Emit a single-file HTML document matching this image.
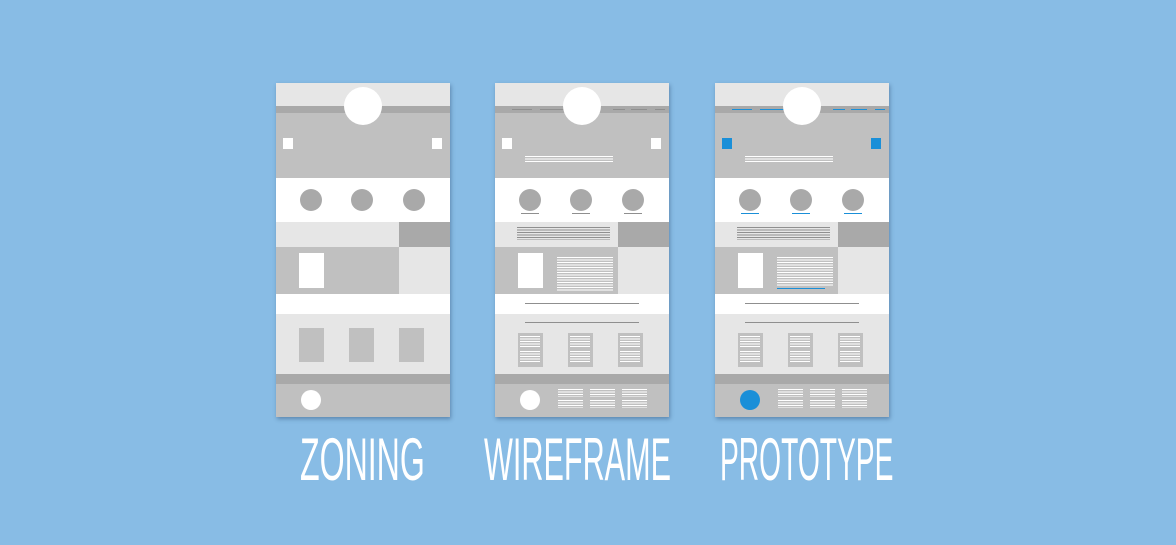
<!DOCTYPE html>
<html><head><meta charset="utf-8">
<style>
*{margin:0;padding:0;box-sizing:border-box}
body{width:1176px;height:545px;background:#88bce5;position:relative;overflow:hidden;font-family:"Liberation Sans",sans-serif}
.ph{position:absolute;top:83px;width:174px;height:334px;background:#c0c0c0;box-shadow:1px 2px 4px rgba(40,70,110,.45);overflow:hidden}
.ph div{position:absolute}
.lt{background:#e6e6e6}.dk{background:#a9a9a9}.gr{background:#c0c0c0}.wh{background:#fff}
.c{border-radius:50%}
.tw{background:repeating-linear-gradient(#fff 0 1px,transparent 1px 2.5px)}
.tg{background:repeating-linear-gradient(#8f8f8f 0 1px,transparent 1px 2.5px)}
.tb{background:repeating-linear-gradient(#1a8fd8 0 1px,transparent 1px 2.5px)}
.lbl{position:absolute;top:430px;color:#fff;font-size:60px;line-height:60px;white-space:nowrap;transform-origin:0 0;letter-spacing:0}
.blue{background:#1a8fd8 !important}
</style></head><body>

<!-- ZONING -->
<div class="ph" style="left:276px">
<div class="lt" style="left:0;top:0;width:174px;height:23px"></div>
<div class="dk" style="left:0;top:23px;width:174px;height:7px"></div>
<div class="wh" style="left:0;top:95px;width:174px;height:44px"></div>
<div class="lt" style="left:0;top:139px;width:123px;height:25px"></div>
<div class="dk" style="left:123px;top:139px;width:51px;height:25px"></div>
<div class="lt" style="left:123px;top:164px;width:51px;height:47px"></div>
<div class="wh" style="left:0;top:211px;width:174px;height:20px"></div>
<div class="lt" style="left:0;top:231px;width:174px;height:60px"></div>
<div class="dk" style="left:0;top:291px;width:174px;height:10px"></div>
<div class="wh c" style="left:68px;top:4px;width:38px;height:38px"></div>
<div class="wh" style="left:7px;top:55px;width:10px;height:11px"></div>
<div class="wh" style="left:156px;top:55px;width:10px;height:11px"></div>
<div class="dk c" style="left:24px;top:106px;width:22px;height:22px"></div>
<div class="dk c" style="left:75px;top:106px;width:22px;height:22px"></div>
<div class="dk c" style="left:127px;top:106px;width:22px;height:22px"></div>
<div class="wh" style="left:23px;top:170px;width:25px;height:35px"></div>
<div class="gr" style="left:23px;top:245px;width:25px;height:34px"></div>
<div class="gr" style="left:73px;top:245px;width:25px;height:34px"></div>
<div class="gr" style="left:123px;top:245px;width:25px;height:34px"></div>
<div class="wh c" style="left:25px;top:307px;width:20px;height:20px"></div>
</div>

<!-- WIREFRAME -->
<div class="ph" style="left:495px">
<div class="lt" style="left:0;top:0;width:174px;height:23px"></div>
<div class="dk" style="left:0;top:23px;width:174px;height:7px"></div>
<div class="tg" style="left:17px;top:26px;width:20px;height:2px"></div>
<div class="tg" style="left:45px;top:26px;width:25px;height:2px"></div>
<div class="tg" style="left:118px;top:26px;width:12px;height:2px"></div>
<div class="tg" style="left:136px;top:26px;width:16px;height:2px"></div>
<div class="tg" style="left:160px;top:26px;width:10px;height:2px"></div>
<div class="tw" style="left:30px;top:73px;width:88px;height:6px"></div>
<div class="wh" style="left:0;top:95px;width:174px;height:44px"></div>
<div class="lt" style="left:0;top:139px;width:123px;height:25px"></div>
<div class="dk" style="left:123px;top:139px;width:51px;height:25px"></div>
<div class="tg" style="left:22px;top:144px;width:93px;height:13px"></div>
<div class="lt" style="left:123px;top:164px;width:51px;height:47px"></div>
<div class="tw" style="left:62px;top:174px;width:56px;height:34px"></div>
<div class="wh" style="left:0;top:211px;width:174px;height:20px"></div>
<div class="tg" style="left:30px;top:220px;width:114px;height:2px"></div>
<div class="lt" style="left:0;top:231px;width:174px;height:60px"></div>
<div class="tg" style="left:30px;top:239px;width:114px;height:2px"></div>
<div class="dk" style="left:0;top:291px;width:174px;height:10px"></div>
<div class="wh c" style="left:68px;top:4px;width:38px;height:38px"></div>
<div class="wh" style="left:7px;top:55px;width:10px;height:11px"></div>
<div class="wh" style="left:156px;top:55px;width:10px;height:11px"></div>
<div class="dk c" style="left:24px;top:106px;width:22px;height:22px"></div>
<div class="dk c" style="left:75px;top:106px;width:22px;height:22px"></div>
<div class="dk c" style="left:127px;top:106px;width:22px;height:22px"></div>
<div class="tg" style="left:26px;top:130px;width:18px;height:2px"></div>
<div class="tg" style="left:77px;top:130px;width:18px;height:2px"></div>
<div class="tg" style="left:129px;top:130px;width:18px;height:2px"></div>
<div class="wh" style="left:23px;top:170px;width:25px;height:35px"></div>
<div class="gr" style="left:23px;top:250px;width:25px;height:34px"><div class="tw" style="left:2px;top:3px;width:20px;height:11px"></div><div class="tw" style="left:2px;top:18px;width:20px;height:11px"></div></div>
<div class="gr" style="left:73px;top:250px;width:25px;height:34px"><div class="tw" style="left:2px;top:3px;width:20px;height:11px"></div><div class="tw" style="left:2px;top:18px;width:20px;height:11px"></div></div>
<div class="gr" style="left:123px;top:250px;width:25px;height:34px"><div class="tw" style="left:2px;top:3px;width:20px;height:11px"></div><div class="tw" style="left:2px;top:18px;width:20px;height:11px"></div></div>
<div class="wh c" style="left:25px;top:307px;width:20px;height:20px"></div>
<div class="tw" style="left:63px;top:306px;width:25px;height:8px"></div>
<div class="tw" style="left:63px;top:317px;width:25px;height:8px"></div>
<div class="tw" style="left:95px;top:306px;width:25px;height:8px"></div>
<div class="tw" style="left:95px;top:317px;width:25px;height:8px"></div>
<div class="tw" style="left:127px;top:306px;width:25px;height:8px"></div>
<div class="tw" style="left:127px;top:317px;width:25px;height:8px"></div>
</div>

<!-- PROTOTYPE -->
<div class="ph" style="left:715px">
<div class="lt" style="left:0;top:0;width:174px;height:23px"></div>
<div class="dk" style="left:0;top:23px;width:174px;height:7px"></div>
<div class="tb" style="left:17px;top:26px;width:20px;height:2px"></div>
<div class="tb" style="left:45px;top:26px;width:25px;height:2px"></div>
<div class="tb" style="left:118px;top:26px;width:12px;height:2px"></div>
<div class="tb" style="left:136px;top:26px;width:16px;height:2px"></div>
<div class="tb" style="left:160px;top:26px;width:10px;height:2px"></div>
<div class="tw" style="left:30px;top:73px;width:88px;height:6px"></div>
<div class="wh" style="left:0;top:95px;width:174px;height:44px"></div>
<div class="lt" style="left:0;top:139px;width:123px;height:25px"></div>
<div class="dk" style="left:123px;top:139px;width:51px;height:25px"></div>
<div class="tg" style="left:22px;top:144px;width:93px;height:13px"></div>
<div class="lt" style="left:123px;top:164px;width:51px;height:47px"></div>
<div class="tw" style="left:62px;top:174px;width:56px;height:30px"></div>
<div class="tb" style="left:62px;top:205px;width:48px;height:2px"></div>
<div class="wh" style="left:0;top:211px;width:174px;height:20px"></div>
<div class="tg" style="left:30px;top:220px;width:114px;height:2px"></div>
<div class="lt" style="left:0;top:231px;width:174px;height:60px"></div>
<div class="tg" style="left:30px;top:239px;width:114px;height:2px"></div>
<div class="dk" style="left:0;top:291px;width:174px;height:10px"></div>
<div class="wh c" style="left:68px;top:4px;width:38px;height:38px"></div>
<div class="blue" style="left:7px;top:55px;width:10px;height:11px"></div>
<div class="blue" style="left:156px;top:55px;width:10px;height:11px"></div>
<div class="dk c" style="left:24px;top:106px;width:22px;height:22px"></div>
<div class="dk c" style="left:75px;top:106px;width:22px;height:22px"></div>
<div class="dk c" style="left:127px;top:106px;width:22px;height:22px"></div>
<div class="tb" style="left:26px;top:130px;width:18px;height:2px"></div>
<div class="tb" style="left:77px;top:130px;width:18px;height:2px"></div>
<div class="tb" style="left:129px;top:130px;width:18px;height:2px"></div>
<div class="wh" style="left:23px;top:170px;width:25px;height:35px"></div>
<div class="gr" style="left:23px;top:250px;width:25px;height:34px"><div class="tw" style="left:2px;top:3px;width:20px;height:11px"></div><div class="tw" style="left:2px;top:18px;width:20px;height:11px"></div></div>
<div class="gr" style="left:73px;top:250px;width:25px;height:34px"><div class="tw" style="left:2px;top:3px;width:20px;height:11px"></div><div class="tw" style="left:2px;top:18px;width:20px;height:11px"></div></div>
<div class="gr" style="left:123px;top:250px;width:25px;height:34px"><div class="tw" style="left:2px;top:3px;width:20px;height:11px"></div><div class="tw" style="left:2px;top:18px;width:20px;height:11px"></div></div>
<div class="blue c" style="left:25px;top:307px;width:20px;height:20px"></div>
<div class="tw" style="left:63px;top:306px;width:25px;height:8px"></div>
<div class="tw" style="left:63px;top:317px;width:25px;height:8px"></div>
<div class="tw" style="left:95px;top:306px;width:25px;height:8px"></div>
<div class="tw" style="left:95px;top:317px;width:25px;height:8px"></div>
<div class="tw" style="left:127px;top:306px;width:25px;height:8px"></div>
<div class="tw" style="left:127px;top:317px;width:25px;height:8px"></div>
</div>

<div class="lbl" style="left:300px;transform:scaleX(0.535)">ZONING</div>
<div class="lbl" style="left:484px;transform:scaleX(0.51)">WIREFRAME</div>
<div class="lbl" style="left:720px;transform:scaleX(0.47)">PROTOTYPE</div>
</body></html>
